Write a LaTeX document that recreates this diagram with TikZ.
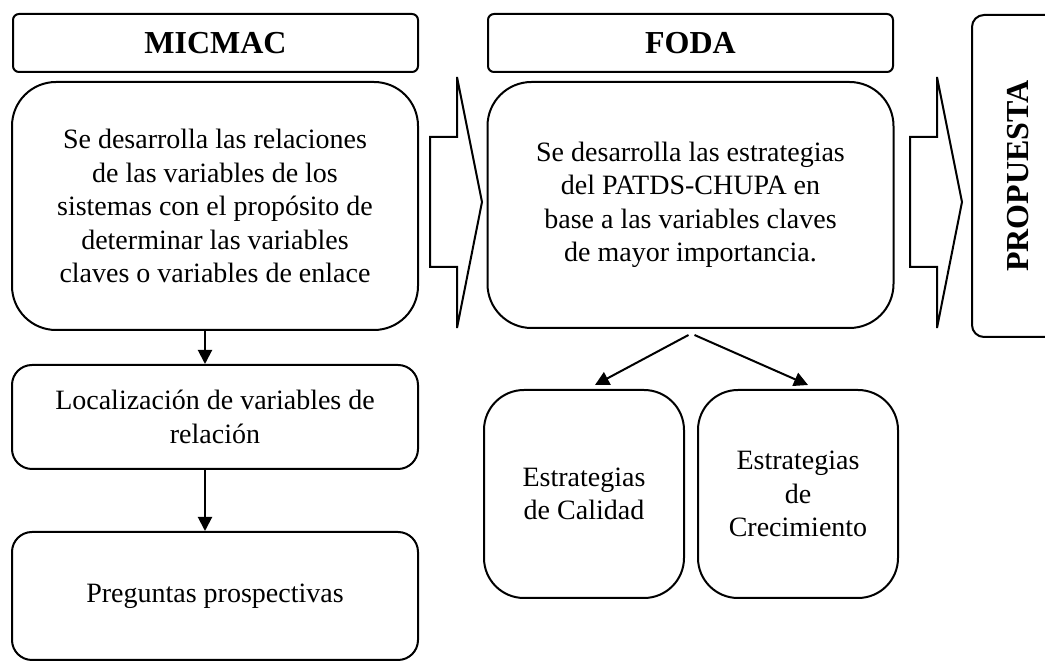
\documentclass[tikz,border=0pt]{standalone}
\usepackage{fontspec}
\setmainfont{Liberation Serif}
\usetikzlibrary{arrows.meta}

\begin{document}
\begin{tikzpicture}[
  x=0.5pt, y=-0.5pt,
  every node/.style={font=\fontsize{14}{16.75}\selectfont},
  header/.style={
    draw,
    line width=1pt,
    rounded corners=3pt,
    minimum width=202.5pt,
    minimum height=29pt,
    inner sep=0pt,
    font=\fontsize{16}{19}\selectfont\bfseries
  },
  panel/.style={
    draw,
    line width=1pt,
    rounded corners=22pt,
    minimum width=203pt,
    minimum height=124pt,
    inner sep=0pt,
    align=center
  },
  stepbox/.style={
    draw,
    line width=1pt,
    rounded corners=10pt,
    minimum width=203pt,
    inner sep=0pt,
    align=center
  },
  stratbox/.style={
    draw,
    line width=1pt,
    rounded corners=20pt,
    minimum width=100pt,
    minimum height=104pt,
    inner sep=0pt,
    align=center
  },
  flow/.style={-{Triangle[length=7pt,width=7pt]},line width=1pt}
]
  \useasboundingbox (0,0) rectangle (1045,672);

  % left column
  \node[header] (micmac) at (215.5,43) {MICMAC};
  \node[panel] (relaciones) at (215,206)
    {Se desarrolla las relaciones\\de las variables de los\\sistemas con el prop\'osito de\\determinar las variables\\claves o variables de enlace};
  \node[stepbox,minimum height=52pt] (localizacion) at (215,417)
    {Localizaci\'on de variables de\\relaci\'on};
  \node[stepbox,minimum height=64pt] (preguntas) at (215,596)
    {Preguntas prospectivas};

  % middle column
  \node[header] (foda) at (690.5,43) {FODA};
  \node[panel,minimum height=123pt] (estrategias) at (690.5,205)
    {Se desarrolla las estrategias\\del PATDS-CHUPA en\\base a las variables claves\\de mayor importancia.};
  \node[stratbox] (calidad) at (584,494) {Estrategias\\de Calidad};
  \node[stratbox] (crecimiento) at (798,494) {Estrategias\\de\\Crecimiento};

  % right column
  \node[draw,line width=1pt,rounded corners=6pt,rotate=90,
        minimum width=161pt,minimum height=46pt,inner sep=0pt,
        font=\fontsize{16}{19}\selectfont\bfseries] (propuesta) at (1018,176) {PROPUESTA};

  % block arrows
  \foreach \x in {430,910}
    \draw[line width=1pt,line join=miter]
      (\x,137) -- (\x+27,137) -- (\x+27,77) -- (\x+52,202)
      -- (\x+27,328) -- (\x+27,267) -- (\x,267) -- cycle;

  \draw[flow] ([shift={(-10,0)}]relaciones.south) -- ([shift={(-10,0)}]localizacion.north);
  \draw[flow] ([shift={(-10,0)}]localizacion.south) -- ([shift={(-10,0)}]preguntas.north);
  \draw[flow] ([shift={(-2,6)}]estrategias.south) -- ([shift={(11,-4)}]calidad.north);
  \draw[flow] ([shift={(4,6)}]estrategias.south) -- ([shift={(10,-4)}]crecimiento.north);
\end{tikzpicture}
\end{document}
